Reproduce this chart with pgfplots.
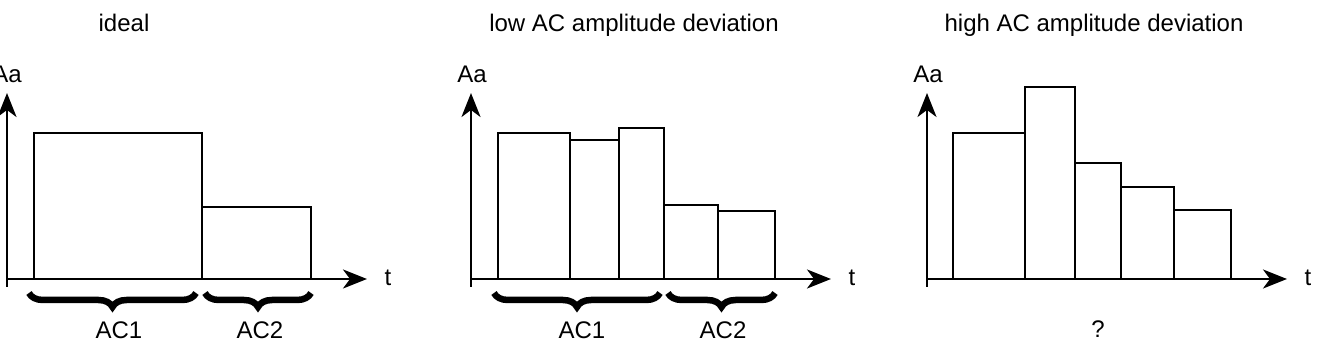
\documentclass[border=0pt]{standalone}
\usepackage{pgfplots}
\pgfplotsset{compat=1.18}
\usetikzlibrary{arrows.meta,decorations.pathreplacing}
\usepackage{fontspec}
\setmainfont{Liberation Sans}

\pgfplotsset{panel/.style={
  anchor=south west, x=1pt, y=1pt,
  xmin=0, xmax=360, ymin=-8, ymax=186,
  axis lines=middle, xtick=\empty, ytick=\empty, clip=false,
  axis line style={line width=2pt, -{Stealth[length=24pt,width=19pt,inset=7pt]}},
  every inner x axis line/.append style={-{Stealth[length=24pt,width=19pt,inset=7pt]}},
  every inner y axis line/.append style={-{Stealth[length=24pt,width=19pt,inset=7pt]}},
}}
\tikzset{
  bars/.style={ybar interval, fill=white, draw=black, line width=2pt},
  brc/.style={decorate, decoration={brace, mirror, amplitude=14pt}, line width=6.5pt},
  lab/.style={font=\fontsize{24}{28}\selectfont, anchor=base},
}

\begin{document}
\begin{tikzpicture}
\path[use as bounding box] (0,0) rectangle (1320pt,350pt);

% Panel 1: ideal
\begin{axis}[panel, at={(7pt,63pt)}]
\addplot[bars] coordinates {(27,146) (195,72) (304,72)};
\node[lab] at (axis cs:117,247) {ideal};
\node[lab] at (axis cs:0,196) {Aa};
\node[lab] at (axis cs:381,-7) {t};
\draw[brc] (axis cs:22,-14) -- (axis cs:189,-14);
\draw[brc] (axis cs:198,-14) -- (axis cs:304,-14);
\node[lab] at (axis cs:112,-60) {AC1};
\node[lab] at (axis cs:253,-60) {AC2};
\end{axis}

% Panel 2: low AC amplitude deviation
\begin{axis}[panel, at={(471pt,63pt)}]
\addplot[bars] coordinates {(27,146) (99,139) (148,151) (193,74) (247,68) (304,68)};
\node[lab] at (axis cs:163,247) {low AC amplitude deviation};
\node[lab] at (axis cs:1,196) {Aa};
\node[lab] at (axis cs:381,-7) {t};
\draw[brc] (axis cs:23,-14) -- (axis cs:189,-14);
\draw[brc] (axis cs:197,-14) -- (axis cs:304,-14);
\node[lab] at (axis cs:111,-60) {AC1};
\node[lab] at (axis cs:252,-60) {AC2};
\end{axis}

% Panel 3: high AC amplitude deviation
\begin{axis}[panel, at={(927pt,63pt)}]
\addplot[bars] coordinates {(26,146) (98,192) (148,116) (194,92) (247,69) (304,69)};
\node[lab] at (axis cs:167,247) {high AC amplitude deviation};
\node[lab] at (axis cs:1,196) {Aa};
\node[lab] at (axis cs:381,-7) {t};
\node[lab] at (axis cs:171,-59) {?};
\end{axis}
\end{tikzpicture}
\end{document}
